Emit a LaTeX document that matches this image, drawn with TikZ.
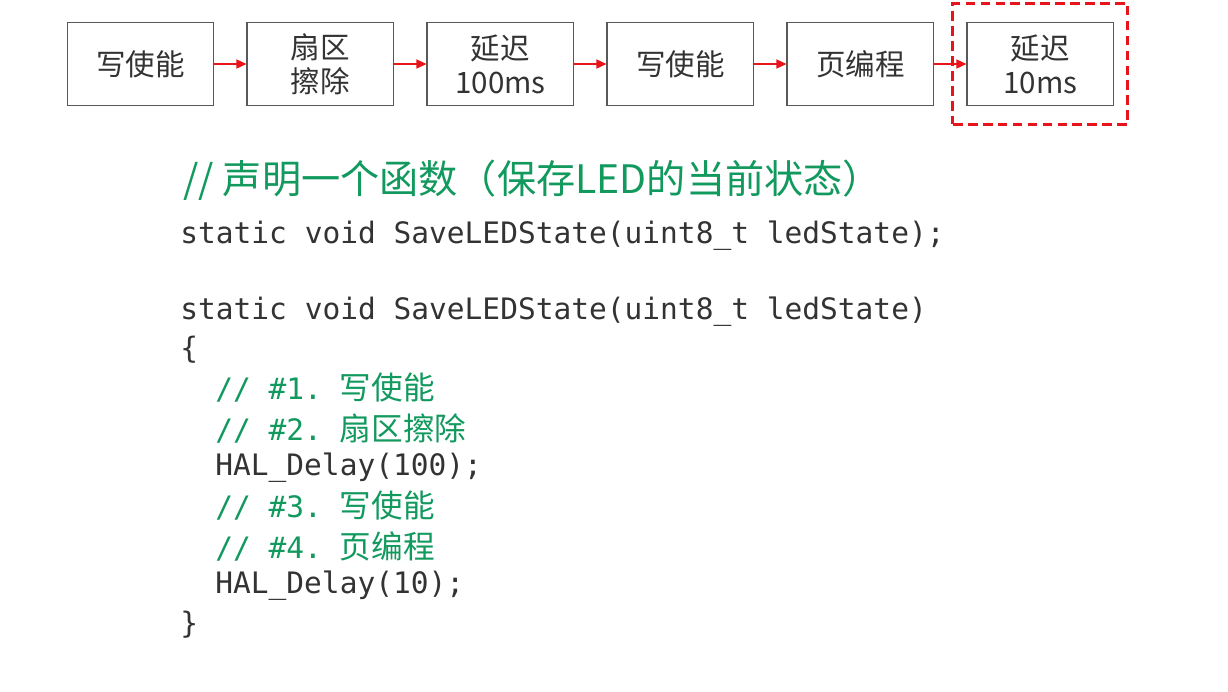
\documentclass[tikz,border=0pt]{standalone}
\usepackage{fontspec}
\setmainfont{Noto Sans CJK SC}
\setmonofont{DejaVu Sans Mono}
\newfontfamily\cjk{Noto Sans CJK SC}
\usetikzlibrary{positioning,arrows.meta,fit}
\definecolor{inkgray}{HTML}{333333}
\definecolor{edgegray}{HTML}{595959}
\definecolor{codegreen}{HTML}{12995E}
\definecolor{flowred}{HTML}{E8141B}
\newcommand\zh[1]{{\cjk\fontsize{18}{20}\selectfont #1}}
\tikzset{
  stepbox/.style={draw=edgegray, line width=0.85pt, minimum width=2.93cm, minimum height=1.66cm,
    align=center, text=inkgray, inner sep=0pt, font=\fontsize{16.8}{19.3}\selectfont},
  flow/.style={draw=flowred, line width=0.8pt, -{Triangle[length=0.2cm,width=0.18cm]}},
  hilite/.style={draw=flowred, line width=1.7pt, dash pattern=on 5.5pt off 3pt},
  codeline/.style={anchor=west, inner sep=0pt, text=inkgray, font=\ttfamily\fontsize{16.8}{20}\selectfont},
  cmtline/.style={codeline, text=codegreen},
}
\begin{document}
\begin{tikzpicture}[node distance=0.64cm]
\path[use as bounding box, fill=white] (0,0) rectangle (24.56,-13.82);
% flow of the save routine
\node[stepbox] (we1) at (2.81,-1.28) {写使能};
\node[stepbox, right=of we1] (erase) {扇区\\擦除};
\node[stepbox, right=of erase] (wait1) {延迟\\100ms};
\node[stepbox, right=of wait1] (we2) {写使能};
\node[stepbox, right=of we2] (prog) {页编程};
\node[stepbox, right=of prog] (wait2) {延迟\\10ms};
\node[hilite, fit=(wait2), inner xsep=0.27cm, inner ysep=0.36cm] (focus) {};
\draw[flow] (we1) -- (erase);
\draw[flow] (erase) -- (wait1);
\draw[flow] (wait1) -- (we2);
\draw[flow] (we2) -- (prog);
\draw[flow] (prog) -- (wait2);
% code
\node[anchor=west, inner sep=0pt, text=codegreen, font=\fontsize{22.3}{24}\selectfont] (title) at (3.66,-3.60) {// 声明一个函数（保存LED的当前状态）};
\node[codeline] (c1) at (3.6,-4.72) {static void SaveLEDState(uint8\_t ledState);};
\node[codeline] (c2) at (3.6,-6.24) {static void SaveLEDState(uint8\_t ledState)};
\node[codeline] (c3) at (3.6,-7.00) {\{};
\node[cmtline] (c4) at (4.3,-7.76) {// \#1. \zh{写使能}};
\node[cmtline] (c5) at (4.3,-8.56) {// \#2. \zh{扇区擦除}};
\node[codeline] (c6) at (4.3,-9.36) {HAL\_Delay(100);};
\node[cmtline] (c7) at (4.3,-10.12) {// \#3. \zh{写使能}};
\node[cmtline] (c8) at (4.3,-10.92) {// \#4. \zh{页编程}};
\node[codeline] (c9) at (4.3,-11.72) {HAL\_Delay(10);};
\node[codeline] (c10) at (3.6,-12.50) {\}};
\end{tikzpicture}
\end{document}
